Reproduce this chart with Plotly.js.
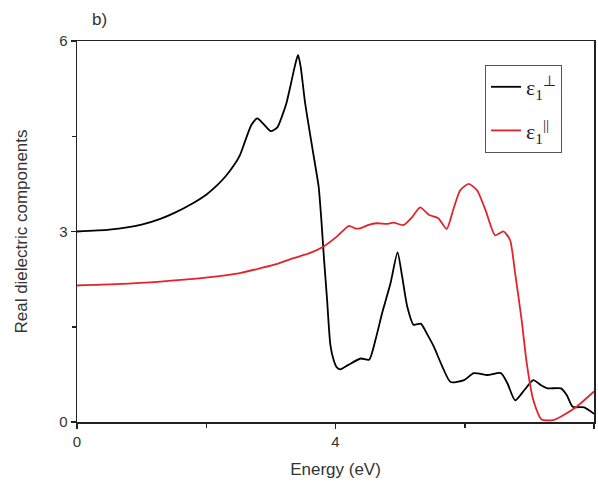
<!DOCTYPE html>
<html>
<head>
<meta charset="utf-8">
<script src="https://cdn.plot.ly/plotly-3.0.1.min.js"></script>
<style>html,body{margin:0;padding:0;background:#fff}#chart{width:598px;height:487px}</style>
</head>
<body>
<div id="chart"></div>
<script>
// ε1 perpendicular (black)
const energyPerp = [0, 0.5, 1.0, 1.29, 1.5, 1.8, 2.0, 2.17, 2.3, 2.42, 2.52, 2.6, 2.7, 2.79, 2.88, 3.0, 3.1, 3.17, 3.24, 3.30, 3.37, 3.42, 3.46, 3.53, 3.62, 3.69, 3.74, 3.78, 3.82, 3.87, 3.92, 3.97, 4.02, 4.08, 4.2, 4.39, 4.52, 4.62, 4.72, 4.85, 4.96, 5.03, 5.11, 5.21, 5.32, 5.42, 5.52, 5.65, 5.78, 5.99, 6.14, 6.35, 6.56, 6.66, 6.78, 6.92, 7.06, 7.18, 7.28, 7.49, 7.58, 7.67, 7.85, 8.0];
const epsPerp   = [3.0, 3.03, 3.11, 3.2, 3.29, 3.45, 3.58, 3.73, 3.87, 4.03, 4.2, 4.42, 4.68, 4.78, 4.70, 4.58, 4.64, 4.81, 5.02, 5.28, 5.6, 5.78, 5.6, 5.02, 4.45, 4.02, 3.70, 3.2, 2.6, 1.92, 1.22, 0.98, 0.86, 0.83, 0.9, 1.0, 0.98, 1.3, 1.71, 2.18, 2.67, 2.3, 1.82, 1.53, 1.55, 1.38, 1.19, 0.88, 0.63, 0.66, 0.77, 0.74, 0.77, 0.61, 0.34, 0.50, 0.66, 0.58, 0.53, 0.53, 0.42, 0.24, 0.23, 0.13];
// ε1 parallel (red)
const energyPar = [0, 0.6, 1.29, 2.06, 2.5, 2.83, 3.1, 3.35, 3.6, 3.81, 4.02, 4.21, 4.30, 4.38, 4.5, 4.64, 4.79, 4.90, 5.05, 5.18, 5.31, 5.45, 5.59, 5.72, 5.83, 5.93, 6.06, 6.19, 6.32, 6.47, 6.60, 6.70, 6.78, 6.88, 6.96, 7.06, 7.19, 7.37, 7.53, 7.73, 8.0];
const epsPar    = [2.15, 2.17, 2.21, 2.28, 2.34, 2.42, 2.49, 2.58, 2.66, 2.76, 2.92, 3.09, 3.05, 3.05, 3.1, 3.13, 3.12, 3.14, 3.10, 3.22, 3.38, 3.26, 3.21, 3.04, 3.37, 3.65, 3.75, 3.65, 3.34, 2.94, 3.00, 2.87, 2.34, 1.61, 0.92, 0.35, 0.04, 0.03, 0.11, 0.24, 0.48];
const xTicks = [0, 4, 8];
const yTicks = [0, 3, 6];
const labelPerp = "ε<sub>1</sub><sup>⊥</sup>";
const labelPar  = "ε<sub>1</sub><sup>||</sup>";

const traces = [
  {x: energyPerp, y: epsPerp, name: labelPerp, legendgroup: 'a', mode: 'lines', line: {color: '#000000', width: 1.8, shape: 'spline', smoothing: 0.6}},
  {x: energyPar, y: epsPar, name: labelPar, legendgroup: 'b', mode: 'lines', line: {color: '#e3232b', width: 1.8, shape: 'spline', smoothing: 0.6}}
];

const font = {family: 'Liberation Sans, Arial, sans-serif', color: '#333'};
const layout = {
  width: 598, height: 487,
  margin: {l: 77, r: 4, t: 41, b: 65},
  paper_bgcolor: '#fff', plot_bgcolor: '#fff',
  showlegend: true,
  title: {text: 'b)', x: 92/598, xanchor: 'left', xref: 'container', y: 1 - 19/487, yanchor: 'middle', yref: 'container', font: Object.assign({}, font, {size: 17})},
  xaxis: {
    range: [0, 8], tickvals: xTicks, ticktext: xTicks.map(String),
    showline: true, mirror: true, linecolor: '#222', linewidth: 1.5,
    ticks: 'outside', ticklen: 5, tickwidth: 1.5, tickcolor: '#222',
    minor: {tickvals: [2, 6], ticks: 'outside', ticklen: 4, tickwidth: 1.5, tickcolor: '#222'},
    showgrid: false, zeroline: false,
    tickfont: Object.assign({}, font, {size: 15}),
    title: {text: 'Energy (eV)', font: Object.assign({}, font, {size: 17}), standoff: 14}
  },
  yaxis: {
    range: [0, 6], tickvals: yTicks, ticktext: yTicks.map(String),
    showline: true, mirror: true, linecolor: '#222', linewidth: 1.5,
    ticks: 'outside', ticklen: 5, tickwidth: 1.5, tickcolor: '#222',
    minor: {tickvals: [1.5, 4.5], ticks: 'outside', ticklen: 4, tickwidth: 1.5, tickcolor: '#222'},
    showgrid: false, zeroline: false,
    tickfont: Object.assign({}, font, {size: 15}),
    title: {text: 'Real dielectric components', font: Object.assign({}, font, {size: 17}), standoff: 27}
  },
  legend: {
    x: (485-77)/517, y: 1 - (65-41)/381, xanchor: 'left', yanchor: 'top',
    bordercolor: '#555', borderwidth: 1, bgcolor: '#fff',
    font: {family: 'Liberation Serif, Times New Roman, serif', size: 22, color: '#222'},
    traceorder: 'grouped', tracegroupgap: 12
  }
};

Plotly.newPlot('chart', traces, layout, {displayModeBar: false, staticPlot: true});
</script>
</body>
</html>
